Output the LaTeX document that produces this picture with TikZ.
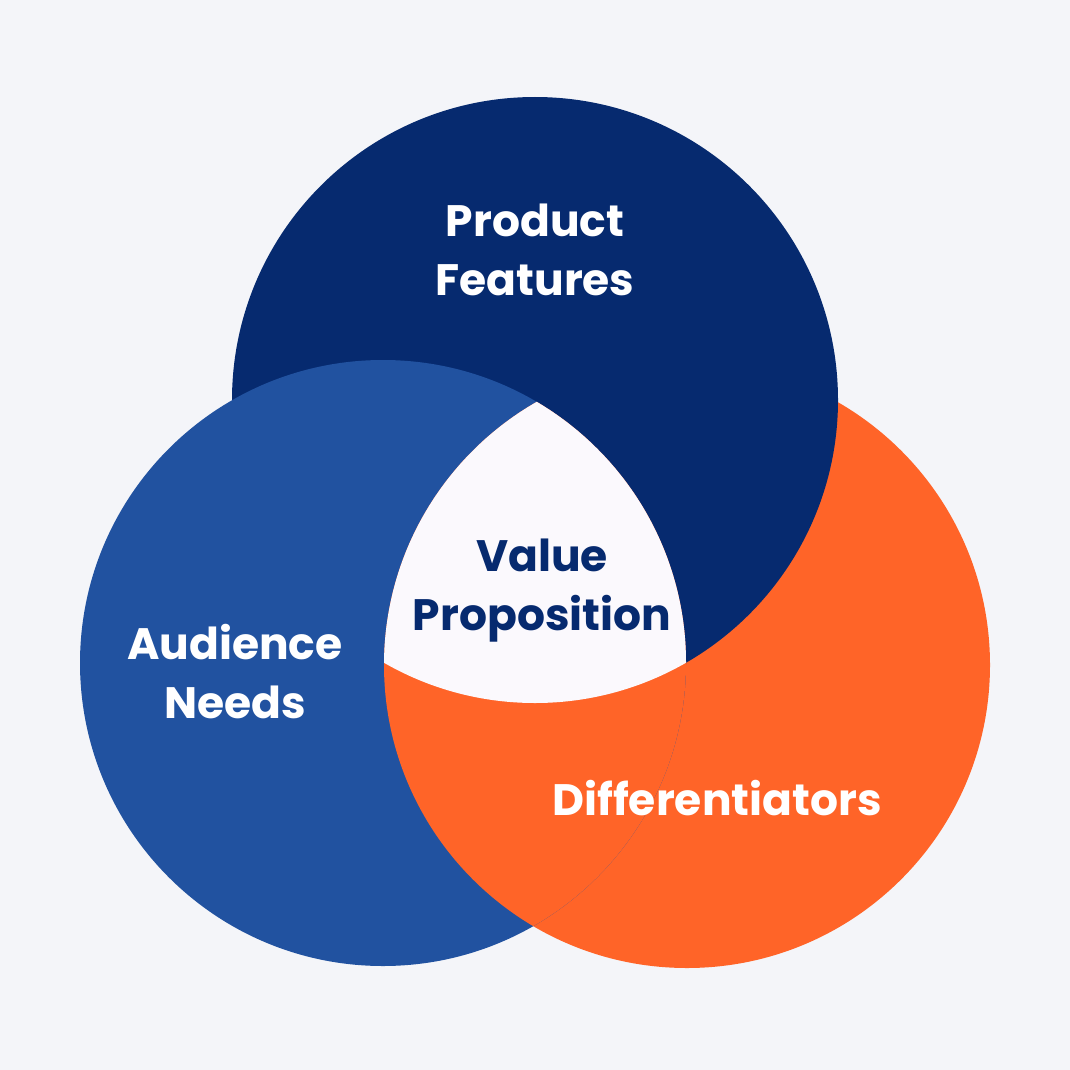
\documentclass[tikz,border=0pt]{standalone}
\usepackage{fontspec}
\setmainfont{Poppins}
\definecolor{bgcol}{HTML}{F4F5F9}
\definecolor{navy}{HTML}{062A6F}
\definecolor{midblue}{HTML}{2152A0}
\definecolor{flame}{HTML}{FF6428}
\definecolor{core}{HTML}{FBF9FD}
\tikzset{
    lbl/.style={align=center, font=\bfseries\fontsize{44}{59}\selectfont, text=white},
    corelbl/.style={lbl, text=navy}
}
\begin{document}
\begin{tikzpicture}[x=1pt, y=-1pt]

            \def \r{303};
            \coordinate (ctop) at (535,400);
            \coordinate (cleft) at (383,663);
            \coordinate (cright) at (687,665);

            % background
            \fill[bgcol] (0,0) rectangle (1070,1070);
            \useasboundingbox (0,0) rectangle (1070,1070);

            % circles
            \fill[flame] (cright) circle (\r);
            \fill[navy] (ctop) circle (\r);
            \fill[midblue] (cleft) circle (\r);
            \begin{scope}
                \clip (cleft) circle (\r);
                \fill[flame] (cright) circle (\r);
            \end{scope}

            % centre
            \begin{scope}
                \clip (ctop) circle (\r);
                \clip (cleft) circle (\r);
                \fill[core] (cright) circle (\r);
            \end{scope}

            % labels
            \node[lbl] (product) at (535,250) {Product\\Features};
            \node[lbl] (audience) at (235,672) {Audience\\Needs};
            \node[lbl, anchor=base] (diff) at (717,815) {Differentiators};
            \node[corelbl] (value) at (542,591) {Value\\Proposition};

\end{tikzpicture}
\end{document}
